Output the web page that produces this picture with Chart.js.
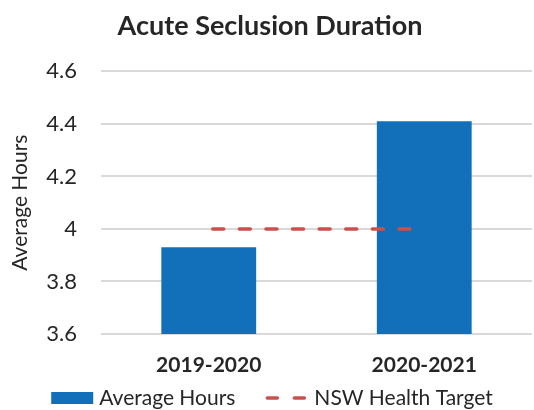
<!DOCTYPE html>
<html>
<head>
<meta charset="utf-8">
<script src="https://cdn.jsdelivr.net/npm/chart.js@4"></script>
<style>
  html, body { margin: 0; padding: 0; background: #fff; }
  #wrap { width: 534px; height: 410px; }
</style>
</head>
<body>
<div id="wrap"><canvas id="seclusionChart" width="534" height="410"></canvas></div>
<script>
const years = ['2019-2020', '2020-2021']
const averageHours = [3.93, 4.41]
const healthTarget = [4, 4]
const yMin = 3.6
const yMax = 4.6
const yStep = 0.2

const textColor = '#262626'
const fontFamily = 'Lato, "Open Sans", sans-serif'

// bottom legend drawn by hand so the gap between the two items can be set
const bottomLegend = {
  id: 'bottomLegend',
  afterDraw (chart) {
    const c = chart.ctx
    const sets = chart.data.datasets
    const bar = sets.find(d => d.type === 'bar')
    const line = sets.find(d => d.type === 'line')
    const y = chart.height - 12
    c.save()
    c.font = '21px ' + fontFamily
    c.textBaseline = 'middle'
    const w1 = c.measureText(bar.label).width
    const w2 = c.measureText(line.label).width
    const total = 42 + 6 + w1 + 30 + 40 + 9 + w2
    let x = chart.width / 2 + 5 - total / 2

    c.fillStyle = bar.backgroundColor
    c.fillRect(x, y - 6, 42, 12)
    x += 48
    c.fillStyle = textColor
    c.fillText(bar.label, x, y)
    x += w1 + 30

    c.strokeStyle = line.borderColor
    c.lineWidth = line.borderWidth
    c.lineCap = 'round'
    c.setLineDash([10, 17])
    c.beginPath()
    c.moveTo(x + 2, y)
    c.lineTo(x + 40, y)
    c.stroke()
    c.setLineDash([])
    x += 49
    c.fillText(line.label, x, y)
    c.restore()
  }
}

const ctx = document.getElementById('seclusionChart').getContext('2d')
const seclusionChart = new Chart(ctx, {
  data: {
    labels: years,
    datasets: [
      {
        type: 'line',
        label: 'NSW Health Target',
        data: healthTarget,
        borderColor: '#c9504c',
        backgroundColor: '#c9504c',
        borderWidth: 3.5,
        borderDash: [11, 15.6],
        borderDashOffset: -4,
        borderCapStyle: 'round',
        pointRadius: 0,
        order: 0
      },
      {
        type: 'bar',
        label: 'Average Hours',
        data: averageHours,
        backgroundColor: '#1170b9',
        barPercentage: 0.44,
        categoryPercentage: 1,
        order: 1
      }
    ]
  },
  options: {
    responsive: false,
    animation: false,
    layout: { padding: { left: 8, right: 2, top: 0, bottom: 24 } },
    plugins: {
      title: {
        display: true,
        text: 'Acute Seclusion Duration',
        color: textColor,
        font: { family: fontFamily, size: 27, weight: 'bold' },
        padding: { top: 10, bottom: 29 }
      },
      legend: { display: false },
      tooltip: { enabled: false }
    },
    scales: {
      x: {
        grid: { display: false, drawTicks: false },
        border: { display: false },
        ticks: {
          color: textColor,
          padding: 19,
          font: { family: fontFamily, size: 21, weight: 'bold' }
        },
        afterFit: (scale) => { scale.height = 52 }
      },
      y: {
        min: yMin,
        max: yMax,
        grid: { color: '#d9d9d9', lineWidth: 2, drawTicks: false },
        border: { display: false },
        ticks: {
          stepSize: yStep,
          color: textColor,
          padding: 24,
          font: { family: fontFamily, size: 22 },
          callback: (v) => String(+v.toFixed(1))
        },
        title: {
          display: true,
          text: 'Average Hours',
          color: textColor,
          font: { family: fontFamily, size: 21 },
          padding: { top: 0, bottom: 4 }
        },
        afterFit: (scale) => { scale.width = 93 }
      }
    }
  },
  plugins: [bottomLegend]
})
</script>
</body>
</html>
